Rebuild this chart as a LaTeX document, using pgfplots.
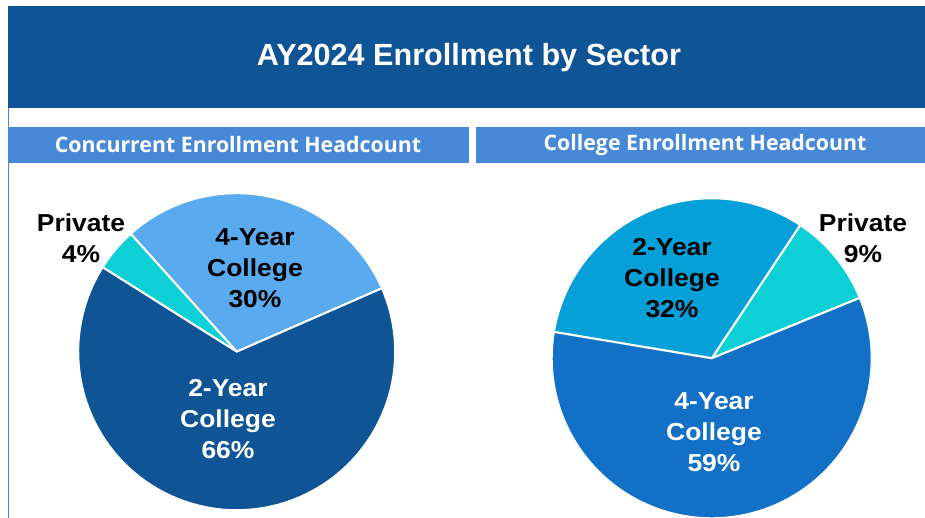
\documentclass[border=0pt]{standalone}
\usepackage{pgfplots}
\pgfplotsset{compat=1.18}
\usepackage{fontspec}
\setmainfont{Liberation Sans}
\newfontfamily\labfont{Liberation Sans}[FakeStretch=1.08]
\newfontfamily\headfont{Open Sans}
\definecolor{banner}{HTML}{0F5495}
\definecolor{subhead}{HTML}{4789D7}
\definecolor{lTwo}{HTML}{0F5495}
\definecolor{lFour}{HTML}{5AAAF0}
\definecolor{priv}{HTML}{0DCFD6}
\definecolor{rTwo}{HTML}{06A0D8}
\definecolor{rFour}{HTML}{1270C6}
% shares in percent
\def\LTwo{65.5}\def\LFour{30.1}\def\LPriv{4.4}
\def\RTwo{31.7}\def\RFour{58.8}\def\RPriv{9.5}
\newcommand{\slice}[6]{% cx cy r a0 a1 color
  \addplot[fill=#6, draw=white, line width=2pt, domain=#4:#5, samples=90, variable=\t]
    ({#1+#3*cos(\t)},{#2+#3*sin(\t)}) -- (axis cs:#1,#2) -- cycle;
}
\begin{document}
\begin{tikzpicture}
\begin{axis}[
  width=925pt, height=518pt, scale only axis,
  xmin=0, xmax=925, ymin=0, ymax=518,
  hide axis, clip=true,
]
\path (axis cs:0,0) rectangle (axis cs:925,518);
% banner and headers
\fill[banner] (axis cs:8,410) rectangle (axis cs:925,512);
\fill[subhead] (axis cs:9,355) rectangle (axis cs:469,391);
\fill[subhead] (axis cs:476,355) rectangle (axis cs:925,391);
\draw[subhead, line width=1.3pt] (axis cs:8.6,410) -- (axis cs:8.6,0);
\node[text=white, font=\fontsize{30.6}{36}\selectfont\bfseries] at (axis cs:469,460) {AY2024 Enrollment by Sector};
\node[text=white, font=\headfont\fontsize{21.3}{25}\selectfont\bfseries] at (axis cs:238,373) {Concurrent Enrollment Headcount};
\node[text=white, font=\headfont\fontsize{21.3}{25}\selectfont\bfseries] at (axis cs:705,373) {College Enrollment Headcount};
% left pie
\pgfmathsetmacro{\la}{23.6}
\pgfmathsetmacro{\lb}{\la+3.6*\LFour}
\pgfmathsetmacro{\lc}{\lb+3.6*\LPriv}
\pgfmathsetmacro{\ld}{\lc+3.6*\LTwo}
\slice{236.7}{166.3}{158.5}{\la}{\lb}{lFour}
\slice{236.7}{166.3}{158.5}{\lb}{\lc}{priv}
\slice{236.7}{166.3}{158.5}{\lc}{\ld}{lTwo}
% right pie
\pgfmathsetmacro{\ra}{22.2}
\pgfmathsetmacro{\rb}{\ra+3.6*\RPriv}
\pgfmathsetmacro{\rc}{\rb+3.6*\RTwo}
\pgfmathsetmacro{\rd}{\rc+3.6*\RFour}
\slice{711.7}{159.7}{160}{\ra}{\rb}{priv}
\slice{711.7}{159.7}{160}{\rb}{\rc}{rTwo}
\slice{711.7}{159.7}{160}{\rc}{\rd}{rFour}
% labels
\tikzset{lab/.style={align=center, inner sep=0pt, font=\labfont\fontsize{24.5}{31}\selectfont\bfseries}}
\node[lab] at (axis cs:81,279.5) {Private\\4\%};
\node[lab] at (axis cs:255,250) {4-Year\\College\\30\%};
\node[lab, text=white] at (axis cs:228,99) {2-Year\\College\\66\%};
\node[lab] at (axis cs:672,240) {2-Year\\College\\32\%};
\node[lab] at (axis cs:863,279.5) {Private\\9\%};
\node[lab, text=white] at (axis cs:714,86) {4-Year\\College\\59\%};
\end{axis}
\end{tikzpicture}
\end{document}
